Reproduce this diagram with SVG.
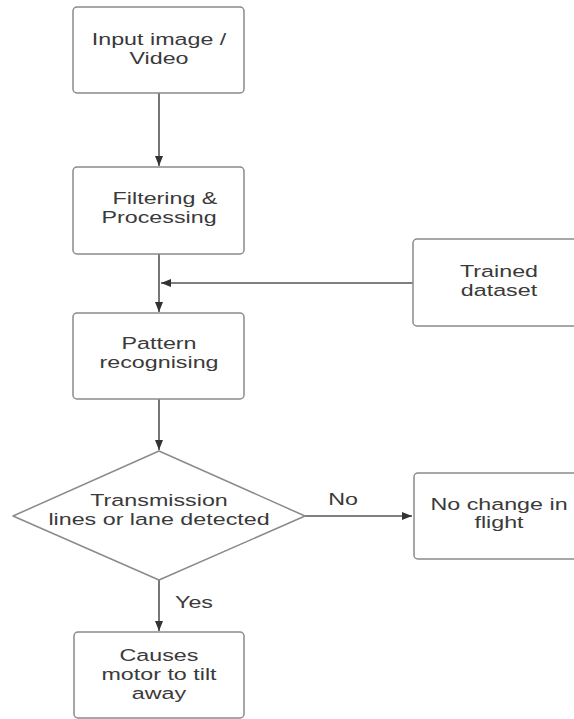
<svg xmlns="http://www.w3.org/2000/svg" width="574" height="719" viewBox="0 0 574 719">
<defs>
<style>
.box{fill:#fff;stroke:#8a8a8a;stroke-width:1.5}
.t{font-family:"Liberation Sans",Arial,sans-serif;font-size:17px;fill:#3a3a3a;text-anchor:middle}
.c{stroke:#555;stroke-width:1.6;fill:none}
</style>
<marker id="ah" markerWidth="10" markerHeight="8" refX="10" refY="4" orient="auto" markerUnits="userSpaceOnUse">
<path d="M0,0 L10,4 L0,8 Z" fill="#333"/>
</marker>
</defs>
<rect width="574" height="719" fill="#fff"/>
<g id="connectors">
<line class="c" x1="159" y1="93" x2="159" y2="166" marker-end="url(#ah)"/>
<line class="c" x1="159" y1="254" x2="159" y2="312" marker-end="url(#ah)"/>
<line class="c" x1="413" y1="283" x2="161" y2="283" marker-end="url(#ah)"/>
<line class="c" x1="159" y1="399" x2="159" y2="450" marker-end="url(#ah)"/>
<line class="c" x1="305" y1="516" x2="412" y2="516" marker-end="url(#ah)"/>
<line class="c" x1="159" y1="580" x2="159" y2="631" marker-end="url(#ah)"/>
<text class="t" transform="translate(343,505) scale(1.37,1)">No</text>
<text class="t" transform="translate(194,608) scale(1.37,1)">Yes</text>
</g>
<g id="input">
<rect class="box" x="73" y="7" width="171" height="86" rx="4"/>
<text class="t" transform="translate(159,45) scale(1.37,1)">Input image /</text>
<text class="t" transform="translate(159,64) scale(1.37,1)">Video</text>
</g>
<g id="filtering">
<rect class="box" x="73" y="167" width="171" height="87" rx="4"/>
<text class="t" transform="translate(165,204) scale(1.37,1)">Filtering &amp;</text>
<text class="t" transform="translate(159,223) scale(1.37,1)">Processing</text>
</g>
<g id="trained">
<rect class="box" x="413" y="239" width="180" height="87" rx="4"/>
<text class="t" transform="translate(499,277) scale(1.37,1)">Trained</text>
<text class="t" transform="translate(499,296) scale(1.37,1)">dataset</text>
</g>
<g id="pattern">
<rect class="box" x="73" y="313" width="171" height="86" rx="4"/>
<text class="t" transform="translate(159,349) scale(1.37,1)">Pattern</text>
<text class="t" transform="translate(159,368) scale(1.37,1)">recognising</text>
</g>
<g id="decision">
<path class="box" d="M159,451 L305,516 L159,580 L13,516 Z" stroke-linejoin="round"/>
<text class="t" transform="translate(159,506) scale(1.37,1)">Transmission</text>
<text class="t" transform="translate(159,525) scale(1.37,1)">lines or lane detected</text>
</g>
<g id="nochange">
<rect class="box" x="414" y="473" width="180" height="86" rx="4"/>
<text class="t" transform="translate(499,510) scale(1.37,1)">No change in</text>
<text class="t" transform="translate(499,528) scale(1.37,1)">flight</text>
</g>
<g id="causes">
<rect class="box" x="74" y="632" width="170" height="86" rx="4"/>
<text class="t" transform="translate(159,661) scale(1.37,1)">Causes</text>
<text class="t" transform="translate(159,680) scale(1.37,1)">motor to tilt</text>
<text class="t" transform="translate(159,699) scale(1.37,1)">away</text>
</g>
</svg>
